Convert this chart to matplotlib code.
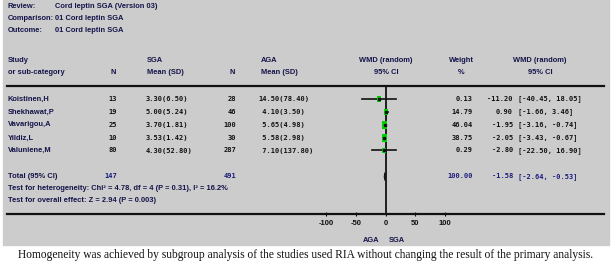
import matplotlib
matplotlib.use("Agg")
import matplotlib.pyplot as plt
from matplotlib.patches import Rectangle, Polygon
from matplotlib import font_manager

# ---------------- data ----------------
studies = ["Koistinen,H", "Shekhawat,P", "Vavarigou,A", "Yildiz,L", "Valuniene,M"]
sga_n = [13, 19, 25, 10, 80]
sga_mean = [3.30, 5.00, 3.70, 3.53, 4.30]
sga_sd = [6.50, 5.24, 1.81, 1.42, 52.80]
aga_n = [28, 46, 100, 30, 287]
aga_mean = [14.50, 4.10, 5.65, 5.58, 7.10]
aga_sd = [78.40, 3.50, 4.98, 2.98, 137.80]
weight = [0.13, 14.79, 46.04, 38.75, 0.29]
wmd = [-11.20, 0.90, -1.95, -2.05, -2.80]
ci_lo = [-40.45, -1.66, -3.16, -3.43, -22.50]
ci_hi = [18.05, 3.46, -0.74, -0.67, 16.90]
total_n_sga = 147
total_n_aga = 491
total_weight = 100.00
total_wmd = -1.58
total_lo = -2.64
total_hi = -0.53
xticks = [-100, -50, 0, 50, 100]
het_text = "Test for heterogeneity: Chi\u00b2 = 4.78, df = 4 (P = 0.31), I\u00b2 = 16.2%"
overall_text = "Test for overall effect: Z = 2.94 (P = 0.003)"
caption = ("Homogeneity was achieved by subgroup analysis of the studies used RIA "
           "without changing the result of the primary analysis.")

# ---------------- fonts ----------------
names = {f.name for f in font_manager.fontManager.ttflist}
lab_font = "Liberation Sans Narrow" if "Liberation Sans Narrow" in names else "Liberation Sans"
mono_font = "DejaVu Sans Mono"
serif_font = "Liberation Serif"

LAB = dict(family=lab_font, fontweight="bold", fontsize=5.4, color="#14144a", va="center")
MONO = dict(family=mono_font, fontweight="bold", fontsize=5.0, color="#111111", va="center")
MONO_T = dict(MONO, color="#1c1c7a")

fig = plt.figure(figsize=(6.11, 2.64), dpi=100)
bg = fig.add_axes([0, 0, 1, 1])
bg.set_xlim(0, 611)
bg.set_ylim(264, 0)
bg.axis("off")
bg.add_patch(Rectangle((3, 0), 606, 245, color="#cccccc", zorder=0))

# header block
for y, a, b in [(7, "Review:", "Cord leptin SGA (Version 03)"),
                (19, "Comparison:", "01 Cord leptin SGA"),
                (31, "Outcome:", "01 Cord leptin SGA")]:
    bg.text(8, y, a, ha="left", **LAB)
    bg.text(55, y, b, ha="left", **LAB)

# column headers
bg.text(8, 61, "Study", ha="left", **LAB)
bg.text(8, 73, "or sub-category", ha="left", **LAB)
bg.text(113, 73, "N", ha="center", **LAB)
bg.text(147, 61, "SGA", ha="left", **LAB)
bg.text(147, 73, "Mean (SD)", ha="left", **LAB)
bg.text(232, 73, "N", ha="center", **LAB)
bg.text(261, 61, "AGA", ha="left", **LAB)
bg.text(261, 73, "Mean (SD)", ha="left", **LAB)
bg.text(386, 61, "WMD (random)", ha="center", **LAB)
bg.text(386, 73, "95% CI", ha="center", **LAB)
bg.text(461, 61, "Weight", ha="center", **LAB)
bg.text(461, 73, "%", ha="center", **LAB)
bg.text(540, 61, "WMD (random)", ha="center", **LAB)
bg.text(540, 73, "95% CI", ha="center", **LAB)

row_y = [99, 112, 125, 138, 150.5]
aga_w = max(len(f"{m:.2f}") for m in aga_mean)
for i, name in enumerate(studies):
    y = row_y[i]
    bg.text(8, y, name, ha="left", **LAB)
    bg.text(117, y, f"{sga_n[i]}", ha="right", **MONO)
    bg.text(146, y, f"{sga_mean[i]:.2f}({sga_sd[i]:.2f})", ha="left", **MONO)
    bg.text(236, y, f"{aga_n[i]}", ha="right", **MONO)
    bg.text(258, y, f"{aga_mean[i]:{aga_w}.2f}({aga_sd[i]:.2f})", ha="left", **MONO)
    bg.text(473, y, f"{weight[i]:.2f}", ha="right", **MONO)
    bg.text(513, y, f"{wmd[i]:.2f}", ha="right", **MONO)
    bg.text(518, y, f"[{ci_lo[i]:.2f}, {ci_hi[i]:.2f}]", ha="left", **MONO)

ty = 176.5
bg.text(8, ty, "Total (95% CI)", ha="left", **LAB)
bg.text(117, ty, f"{total_n_sga}", ha="right", **MONO_T)
bg.text(236, ty, f"{total_n_aga}", ha="right", **MONO_T)
bg.text(473, ty, f"{total_weight:.2f}", ha="right", **MONO_T)
bg.text(513, ty, f"{total_wmd:.2f}", ha="right", **MONO_T)
bg.text(518, ty, f"[{total_lo:.2f}, {total_hi:.2f}]", ha="left", **MONO_T)
bg.text(8, 189, het_text, ha="left", **LAB)
bg.text(8, 201, overall_text, ha="left", **LAB)

bg.text(371, 241, "AGA", ha="center", **LAB)
bg.text(397, 241, "SGA", ha="center", **LAB)

bg.text(305.5, 255, caption, ha="center", va="center", family=serif_font,
        fontsize=8.3, color="#111111")

# ---------------- forest panel ----------------
px0, px1 = 7, 604
zero_px, scale = 385.7, 0.594
fa = fig.add_axes([px0 / 611, (264 - 214) / 264, (px1 - px0) / 611, (214 - 86) / 264])
fa.patch.set_alpha(0)
fa.set_xlim((px0 - zero_px) / scale, (px1 - zero_px) / scale)
fa.set_ylim(214, 86)
for s in ["left", "right"]:
    fa.spines[s].set_visible(False)
for s in ["top", "bottom"]:
    fa.spines[s].set_linewidth(1.6)
    fa.spines[s].set_color("#111111")
fa.set_yticks([])
fa.set_xticks(xticks)
fa.set_xticklabels([str(t) for t in xticks])
fa.tick_params(axis="x", direction="inout", length=3, width=0.8, pad=2.5,
               labelsize=5.5, colors="#111111")
for lbl in fa.get_xticklabels():
    lbl.set_family(lab_font)
    lbl.set_fontweight("bold")

fa.axvline(0, color="#111111", lw=1.3, zorder=2)

for i in range(len(studies)):
    y = row_y[i]
    fa.plot([ci_lo[i], ci_hi[i]], [y, y], color="#111111", lw=1.2, zorder=3)
    h = max(5.5, 3 + 0.8 * weight[i] ** 0.5)
    w = h * 0.7
    fa.add_patch(Rectangle((wmd[i] - w / 2 / scale, y - h / 2), w / scale, h,
                           facecolor="#00d000", edgecolor="none", zorder=4))
    fa.plot([wmd[i]], [y], marker="s", ms=1.4, color="#111111", zorder=5)

dh = 4
fa.add_patch(Polygon([(total_lo, ty), (total_wmd, ty - dh), (total_hi, ty),
                      (total_wmd, ty + dh)], closed=True, facecolor="#111111",
                     edgecolor="#111111", lw=0.6, zorder=5))

fig.savefig("out.png", dpi=100)
